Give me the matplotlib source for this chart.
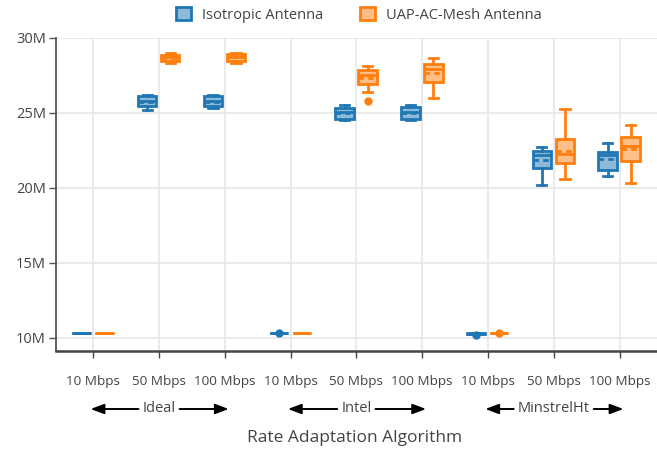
import matplotlib
matplotlib.use("Agg")
import matplotlib.pyplot as plt
from matplotlib.patches import Patch
from matplotlib import transforms
from matplotlib.ticker import FuncFormatter, FixedLocator

plt.rcParams['font.family'] = ['Open Sans', 'DejaVu Sans']

# ---------------- data (values in millions) ----------------
groups = ["Ideal", "Intel", "MinstrelHt"]
rates = ["10 Mbps", "50 Mbps", "100 Mbps"]
series_names = ["Isotropic Antenna", "UAP-AC-Mesh Antenna"]
colors = ["#1f77b4", "#ff7f0e"]

iso_whislo = [10.29, 25.22, 25.35, 10.29, 24.50, 24.50, 10.27, 20.22, 20.82]
iso_q1     = [10.29, 25.44, 25.45, 10.29, 24.57, 24.62, 10.27, 21.29, 21.18]
iso_med    = [10.29, 25.77, 25.78, 10.29, 25.07, 25.05, 10.27, 22.20, 22.20]
iso_mean   = [10.29, 25.75, 25.75, 10.29, 25.00, 25.00, 10.27, 21.85, 21.90]
iso_q3     = [10.30, 26.11, 26.10, 10.30, 25.33, 25.37, 10.28, 22.45, 22.38]
iso_whishi = [10.30, 26.22, 26.20, 10.30, 25.50, 25.50, 10.28, 22.74, 23.00]
iso_fliers = [[], [], [], [10.28], [], [], [10.20], [], []]

uap_whislo = [10.29, 28.32, 28.30, 10.29, 26.40, 26.00, 10.29, 20.60, 20.33]
uap_q1     = [10.29, 28.45, 28.45, 10.29, 26.94, 27.07, 10.29, 21.67, 21.82]
uap_med    = [10.29, 28.70, 28.75, 10.29, 27.50, 27.90, 10.29, 22.27, 22.78]
uap_mean   = [10.29, 28.65, 28.70, 10.29, 27.30, 27.65, 10.29, 22.45, 22.56]
uap_q3     = [10.30, 28.88, 28.90, 10.30, 27.83, 28.27, 10.30, 23.29, 23.38]
uap_whishi = [10.30, 28.98, 29.00, 10.30, 28.11, 28.63, 10.30, 25.23, 24.16]
uap_fliers = [[], [], [], [], [25.82], [], [10.30], [], []]

y_ticks = [10, 15, 20, 25, 30]

series = [
    (iso_whislo, iso_q1, iso_med, iso_mean, iso_q3, iso_whishi, iso_fliers),
    (uap_whislo, uap_q1, uap_med, uap_mean, uap_q3, uap_whishi, uap_fliers),
]

# ---------------- figure ----------------
W, H = 657, 450
fig = plt.figure(figsize=(W / 100, H / 100), dpi=100)
ax = fig.add_axes([55.7 / W, 1 - 351 / H, (657 - 55.7) / W, (351 - 37.5) / H])

n_cat = len(groups) * len(rates)
cats = list(range(n_cat))
offsets = [-0.18, 0.17]
box_w = 0.28

for s, (lo, q1, med, mean, q3, hi, fl) in enumerate(series):
    c = colors[s]
    stats = []
    for i in cats:
        stats.append(dict(whislo=lo[i], q1=q1[i], med=med[i], mean=mean[i],
                          q3=q3[i], whishi=hi[i], fliers=fl[i]))
    ax.bxp(stats, positions=[i + offsets[s] for i in cats], widths=box_w,
           patch_artist=True, showmeans=True, meanline=True, showfliers=True,
           capwidths=box_w * 0.5,
           boxprops=dict(facecolor=matplotlib.colors.to_rgba(c, 0.5), edgecolor=c, linewidth=2),
           medianprops=dict(color=c, linewidth=2, solid_capstyle='butt'),
           meanprops=dict(color=c, linewidth=2, linestyle=(0, (2, 1.5))),
           whiskerprops=dict(color=c, linewidth=2),
           capprops=dict(color=c, linewidth=2),
           flierprops=dict(marker='o', markerfacecolor=c, markeredgecolor=c, markersize=5),
           manage_ticks=False, zorder=3)

ax.set_xlim(-0.57, n_cat - 1 + 0.57)
ax.set_ylim(9.11, 30.03)

ax.yaxis.set_major_locator(FixedLocator(y_ticks))
ax.yaxis.set_major_formatter(FuncFormatter(lambda v, p: f"{v:g}M"))
ax.set_xticks(cats)
ax.set_xticklabels([r for g in groups for r in rates])

ax.grid(True, color="#e6e6e6", linewidth=1.2, zorder=0)
ax.set_axisbelow(True)
for sp in ["top", "right"]:
    ax.spines[sp].set_visible(False)
ax.spines["left"].set_color("#555555")
ax.spines["left"].set_linewidth(1.3)
ax.spines["bottom"].set_color("#444444")
ax.spines["bottom"].set_linewidth(1.8)

ax.tick_params(axis="y", length=5, width=1, color="#555555", labelsize=10.5,
               labelcolor="#444444", pad=2)
ax.tick_params(axis="x", length=5, width=1, color="#444444", labelsize=9.7,
               labelcolor="#444444", pad=12)

# group labels with arrows
trans = transforms.blended_transform_factory(ax.transData, fig.transFigure)
y_grp = 1 - 409 / H
texts = []
for gi, g in enumerate(groups):
    t = ax.text(gi * 3 + 1, y_grp, g, transform=trans, ha="center", va="center",
                fontsize=10.5, color="#444444")
    texts.append(t)
fig.canvas.draw()
r = fig.canvas.get_renderer()
inv = ax.transData.inverted()
for gi, t in enumerate(texts):
    bb = t.get_window_extent(r)
    xl = inv.transform((bb.x0 - 4, 0))[0]
    xr = inv.transform((bb.x1 + 4, 0))[0]
    left_end = gi * 3 - 0.04
    right_end = gi * 3 + 2 + 0.06
    ap = dict(arrowstyle="-|>,head_length=0.8,head_width=0.3", color="black",
              linewidth=1.4, shrinkA=0, shrinkB=0)
    ax.annotate("", xy=(left_end, y_grp), xytext=(xl, y_grp), xycoords=trans,
                textcoords=trans, arrowprops=ap, annotation_clip=False)
    ax.annotate("", xy=(right_end, y_grp), xytext=(xr, y_grp), xycoords=trans,
                textcoords=trans, arrowprops=ap, annotation_clip=False)

fig.text(355 / W, 1 - 438 / H, "Rate Adaptation Algorithm", ha="center", va="center",
         fontsize=12.5, color="#444444")

handles = [Patch(facecolor=matplotlib.colors.to_rgba(c, 0.5), edgecolor=c, linewidth=2)
           for c in colors]
fig.legend(handles, series_names, loc="center", bbox_to_anchor=(359 / W, 1 - 15 / H),
           ncol=2, frameon=False, fontsize=10.5, labelcolor="#444444",
           handlelength=1.0, handleheight=1.0, handletextpad=0.8, columnspacing=2.5)

fig.savefig("out.png", dpi=100)
